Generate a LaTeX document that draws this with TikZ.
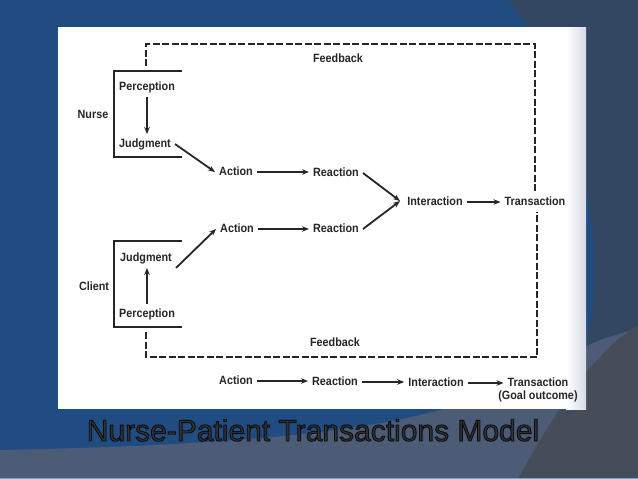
\documentclass[tikz,border=0pt]{standalone}
\usepackage{fontspec}
\setmainfont{Liberation Sans}
\newfontfamily\dfont[FakeStretch=0.9]{Liberation Sans Bold}
\usetikzlibrary{arrows.meta}
\definecolor{bgblue}{RGB}{32,76,130}
\definecolor{slate}{RGB}{51,71,99}
\definecolor{lowblue}{RGB}{76,92,118}
\definecolor{darkgray}{RGB}{70,77,90}
\definecolor{edgeline}{RGB}{140,160,185}
\definecolor{panelshade}{RGB}{214,218,230}
\definecolor{ink}{RGB}{38,38,38}
\definecolor{titlefill}{RGB}{48,50,55}
\begin{document}
\begin{tikzpicture}[x=1pt,y=-1pt,
  lbl/.style={font=\dfont\fontsize{12}{14}\selectfont, text=ink, inner sep=4pt, text height=9pt, text depth=2.5pt},
  arr/.style={draw=ink, line width=1.8pt, -{Stealth[length=7pt,width=5.5pt]}},
  fb/.style={draw=ink, line width=1.5pt, dash pattern=on 7pt off 2.5pt},
  brk/.style={draw=ink, line width=1.5pt}]
\useasboundingbox (0,0) rectangle (638,479);
% background
\fill[bgblue] (0,0) rectangle (638,479);
\fill[slate] (508,0) -- (530,30) -- (586,190) .. controls (597,240) and (598,300) .. (584,352) -- (584,479) -- (638,479) -- (638,0) -- cycle;
\fill[lowblue] (0,450) .. controls (200,446) and (380,435) .. (470,400) -- (600,340) -- (638,328) -- (638,479) -- (0,479) -- cycle;
\fill[darkgray] (638,326) .. controls (600,345) and (555,410) .. (518,479) -- (638,479) -- cycle;
\draw[edgeline, line width=1pt] (0,478) -- (638,478);
% panel
\fill[white] (58,27) rectangle (586,409);
\shade[left color=white, right color=panelshade] (566,27) rectangle (586,409);
% labels
\node[lbl] (fbt) at (338,59) {Feedback};
\node[lbl] (nurse) at (93,115) {Nurse};
\node[lbl] (p1) at (147,87) {Perception};
\node[lbl] (j1) at (145,144) {Judgment};
\node[lbl] (a1) at (236,172) {Action};
\node[lbl] (r1) at (336,173) {Reaction};
\node[lbl] (in) at (435,202) {Interaction};
\node[lbl] (tr) at (535,202) {Transaction};
\node[lbl] (a2) at (237,229) {Action};
\node[lbl] (r2) at (336,229) {Reaction};
\node[lbl] (j2) at (146,258) {Judgment};
\node[lbl] (p2) at (147,314) {Perception};
\node[lbl] (client) at (94,287) {Client};
\node[lbl] (fbb) at (335,343) {Feedback};
\node[lbl] (a3) at (236,381) {Action};
\node[lbl] (r3) at (335,382) {Reaction};
\node[lbl] (i3) at (436,383) {Interaction};
\node[lbl] (t3) at (538,383) {Transaction};
\node[lbl] (g3) at (538,396) {(Goal outcome)};
% brackets
\draw[brk] (182,71) -- (114,71) -- (114,157) -- (182,157);
\draw[brk] (182,241) -- (114,241) -- (114,327) -- (182,327);
% feedback loop
\coordinate (nbt) at (146,66);
\coordinate (ftl) at (146,44);
\coordinate (ftr) at (535,44);
\coordinate (cbb) at (146,332);
\coordinate (fbl) at (146,357);
\coordinate (fbr) at (537,357);
\draw[fb] (nbt) -- (ftl) -- (ftr) -- (ftr |- tr.north);
\draw[fb] (cbb) -- (fbl) -- (fbr) -- (fbr |- tr.south);
% arrows
\draw[arr] (p1.south) -- (p1.south |- j1.north);
\draw[arr] (p2.north) -- (p2.north |- j2.south);
\draw[arr] (j1.east) -- (a1.west);
\draw[arr] (j2.south east) -- (a2.west);
\draw[arr] (a1.east) -- (a1.east -| r1.west);
\draw[arr] (a2.east) -- (a2.east -| r2.west);
\coordinate (m) at (400,201);
\draw[arr] (r1.east) -- (m);
\draw[arr] (r2.east) -- (m);
\draw[arr] (in.east) -- (in.east -| tr.west);
\draw[arr] (a3.east) -- (a3.east -| r3.west);
\draw[arr] (r3.east) -- (r3.east -| i3.west);
\draw[arr] (i3.east) -- (i3.east -| t3.west);
% title
\node[font=\fontsize{30}{36}\selectfont, text=titlefill, anchor=base] (title) at (313,441) {\special{pdf:literal direct 2 Tr 0.9 w 0.05 0.05 0.06 RG}Nurse-Patient Transactions Model\special{pdf:literal direct 0 Tr}};
\end{tikzpicture}
\end{document}
